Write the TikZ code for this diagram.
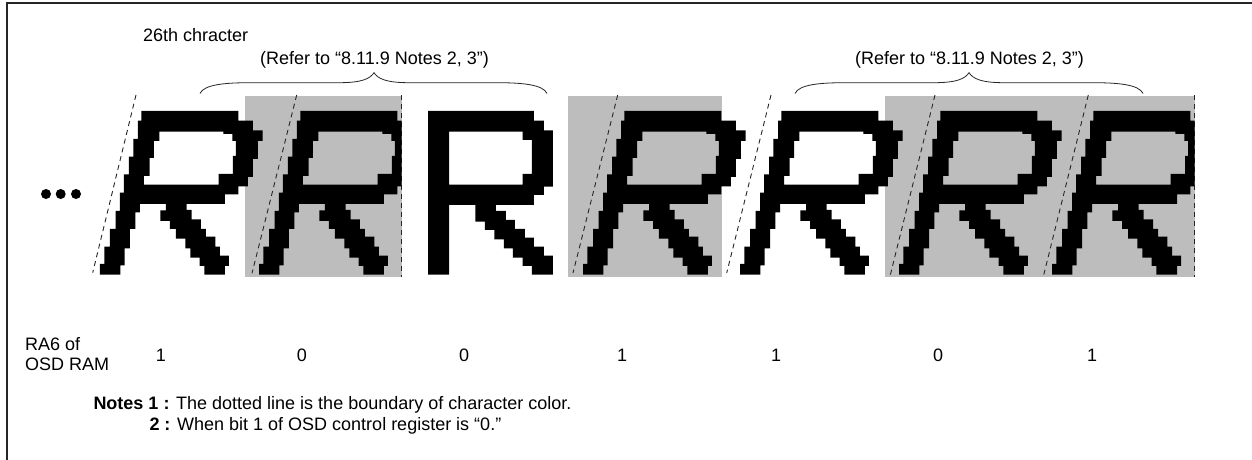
\documentclass[tikz,border=0pt]{standalone}
\usepackage{fontspec}
\setmainfont{Liberation Sans}
\newcommand{\itR}{%
 (184,93)--(475,93)--(475,122)--(519,122)--(519,151)--(548,151)--(548,183)--(534,183)--(534,237)--(519,237)--(519,291)--(504,291)--(504,319)--(475,319)--(475,343)--(435,343)--(435,372)--(320,372)--(320,390)--(335,390)--(335,418)--(363,418)--(363,447)--(378,447)--(378,470)--(406,470)--(406,500)--(420,500)--(420,527)--(447,527)--(447,558)--(435,558)--(435,584)--(373,584)--(373,558)--(359,558)--(359,533)--(331,533)--(331,505)--(316,505)--(316,476)--(288,476)--(288,447)--(270,447)--(270,423)--(241,423)--(241,391)--(258,391)--(258,372)--(180,372)--(180,397)--(166,397)--(166,447)--(150,447)--(150,505)--(134,505)--(134,556)--(121,556)--(121,584)--(60,584)--(60,552)--(73,552)--(73,500)--(90,500)--(90,447)--(107,447)--(107,393)--(120,393)--(120,338)--(132,338)--(132,283)--(147,283)--(147,230)--(160,230)--(160,177)--(174,177)--(174,122)--(184,122)--cycle
 (238,155)--(430,155)--(430,162)--(457,162)--(457,183)--(468,183)--(468,228)--(459,228)--(459,282)--(416,282)--(416,314)--(192,314)--(192,288)--(209,288)--(209,234)--(222,234)--(222,183)--(238,183)--cycle}
\newcommand{\upR}{%
 (84,93)--(402,93)--(402,122)--(432,122)--(432,151)--(459,151)--(459,320)--(432,320)--(432,345)--(402,345)--(402,375)--(288,375)--(288,393)--(318,393)--(318,420)--(345,420)--(345,447)--(375,447)--(375,473)--(402,473)--(402,500)--(432,500)--(432,527)--(459,527)--(459,584)--(396,584)--(396,558)--(368,558)--(368,533)--(339,533)--(339,505)--(312,505)--(312,478)--(283,478)--(283,450)--(255,450)--(255,425)--(226,425)--(226,375)--(147,375)--(147,584)--(84,584)--cycle
 (147,155)--(368,155)--(368,180)--(396,180)--(396,282)--(368,282)--(368,314)--(147,314)--cycle}
\definecolor{graybox}{gray}{0.74}
\tikzset{
 px/.style={x=1pt,y=-1pt},
 glyph/.style={fill=black,even odd rule,x=0.3333pt,y=-0.3333pt},
 graybg/.style={fill=graybox,draw=none},
 bound/.style={draw=black!85,line width=0.9pt,dash pattern=on 5pt off 4pt},
 lbl/.style={font=\fontsize{18}{20}\selectfont,inner sep=0pt,anchor=base west,text=black},
 digit/.style={font=\fontsize{18}{20}\selectfont,inner sep=0pt,anchor=base,text=black},
 bracepath/.style={draw=black!85,line width=0.8pt},
}
\begin{document}
\begin{tikzpicture}[px]
\useasboundingbox (0,0) rectangle (1252,460);
\fill[white] (0,0) rectangle (1252,460);
\draw[line width=2pt,draw=black!85] (7,460)--(7,3)--(1252,3);
\fill[graybg] (245,96) rectangle (401.7,276.7);
\fill[graybg] (568,96) rectangle (722,276.7);
\fill[graybg] (885,96) rectangle (1194.7,276.7);
\draw[bound] (401,95)--(401,276.7);
\draw[bound] (1194,95)--(1194,276.7);
\draw[bound] (136,95)--(92.7,272.7);
\draw[bound] (296.7,95)--(252,273.3);
\draw[bound] (617.7,95)--(573,273);
\draw[bound] (771,95)--(726.7,273);
\draw[bound] (935,95)--(890.3,275);
\draw[bound] (1088.3,95)--(1043.7,275);
% glyphs
\begin{scope}[shift={(80,80)}]
 \fill[glyph] \itR;
\end{scope}
\begin{scope}
 \clip (245,90) rectangle (401.7,280);
 \begin{scope}[shift={(239,80)}]\fill[glyph] \itR;\end{scope}
\end{scope}
\begin{scope}[shift={(400,80)}]
 \fill[glyph] \upR;
\end{scope}
\begin{scope}[shift={(563,80)}]\fill[glyph] \itR;\end{scope}
\begin{scope}[shift={(720,80)}]\fill[glyph] \itR;\end{scope}
\begin{scope}[shift={(879,80)}]\fill[glyph] \itR;\end{scope}
\begin{scope}
 \clip (885,90) rectangle (1194.7,280);
 \begin{scope}[shift={(1032,80)}]\fill[glyph] \itR;\end{scope}
\end{scope}
% braces
\coordinate (b1l) at (200,93.5); \coordinate (b1t) at (374,72.7); \coordinate (b1r) at (547,93.5);
\coordinate (b2l) at (795,93.5); \coordinate (b2t) at (969,72.7); \coordinate (b2r) at (1143,93.5);
\draw[bracepath] (b1l) .. controls ([shift={(4,-9)}]b1l) and ([shift={(25,-10.8)}]b1l) .. ([shift={(50,-10.8)}]b1l) -- ([shift={(-35,10)}]b1t) .. controls ([shift={(-12,10)}]b1t) and ([shift={(-4,6)}]b1t) .. (b1t) .. controls ([shift={(4,6)}]b1t) and ([shift={(12,10)}]b1t) .. ([shift={(35,10)}]b1t) -- ([shift={(-50,-10.8)}]b1r) .. controls ([shift={(-25,-10.8)}]b1r) and ([shift={(-4,-9)}]b1r) .. (b1r);
\draw[bracepath] (b2l) .. controls ([shift={(4,-9)}]b2l) and ([shift={(25,-10.8)}]b2l) .. ([shift={(50,-10.8)}]b2l) -- ([shift={(-35,10)}]b2t) .. controls ([shift={(-12,10)}]b2t) and ([shift={(-4,6)}]b2t) .. (b2t) .. controls ([shift={(4,6)}]b2t) and ([shift={(12,10)}]b2t) .. ([shift={(35,10)}]b2t) -- ([shift={(-50,-10.8)}]b2r) .. controls ([shift={(-25,-10.8)}]b2r) and ([shift={(-4,-9)}]b2r) .. (b2r);
% dots
\fill (46,194) circle (5pt);
\fill (60.7,194) circle (5pt);
\fill (76,194) circle (5pt);
% text
\node[lbl] (t26) at (143,42) {26th chracter};
\node[lbl] (ref1) at (260,64) {(Refer to “8.11.9 Notes 2, 3”)};
\node[lbl] (ref2) at (855,64) {(Refer to “8.11.9 Notes 2, 3”)};
\node[lbl] (ra1) at (25,350) {RA6 of};
\node[lbl] (ra2) at (25,370) {OSD RAM};
\node[digit] (d1) at (161,361) {1};
\node[digit] (d2) at (302,361) {0};
\node[digit] (d3) at (464,361) {0};
\node[digit] (d4) at (622,361) {1};
\node[digit] (d5) at (776,361) {1};
\node[digit] (d6) at (938,361) {0};
\node[digit] (d7) at (1092,361) {1};
\node[lbl] (n1) at (93.3,409) {\textbf{Notes 1 :} The dotted line is the boundary of character color.};
\node[lbl] (n2) at (149.3,430) {\textbf{2 :} When bit 1 of OSD control register is “0.”};
\end{tikzpicture}
\end{document}
